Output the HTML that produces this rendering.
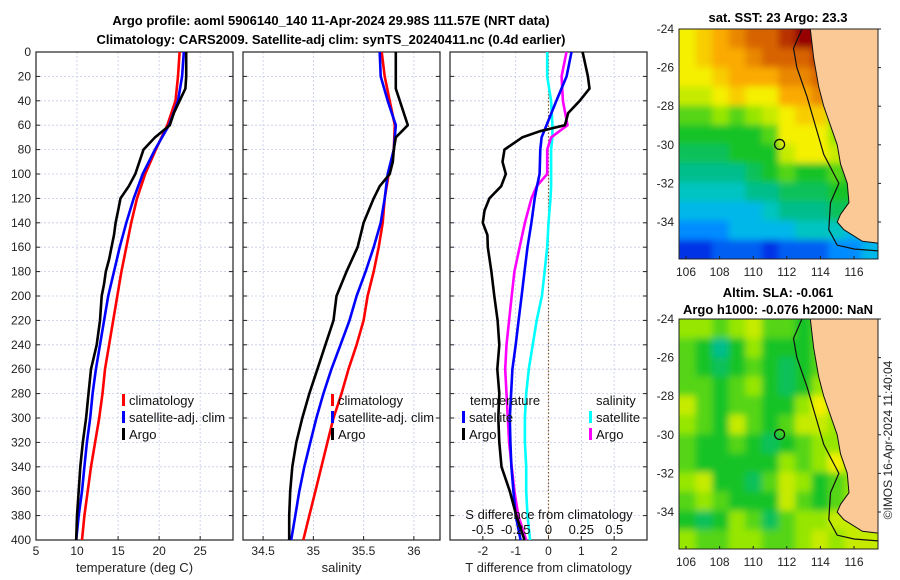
<!DOCTYPE html>
<html><head><meta charset="utf-8"><style>
html,body{margin:0;padding:0;background:#fff;}
svg{display:block;font-family:"Liberation Sans","DejaVu Sans",sans-serif;}
</style></head><body>
<svg id="fig" width="900" height="580" viewBox="0 0 900 580">
<defs>
<filter id="soft" x="-5%" y="-5%" width="110%" height="110%"><feGaussianBlur stdDeviation="3.5"/></filter>
<clipPath id="clipTop"><rect x="679" y="29" width="199" height="230"/></clipPath>
<clipPath id="clipBot"><rect x="679" y="319" width="199" height="230"/></clipPath>
</defs>
<text x="331" y="25" font-size="13" font-weight="bold" text-anchor="middle">Argo profile: aoml 5906140_140 11-Apr-2024 29.98S 111.57E (NRT data)</text>
<text x="331" y="44" font-size="13" font-weight="bold" text-anchor="middle">Climatology: CARS2009. Satellite-adj clim: synTS_20240411.nc (0.4d earlier)</text>
<text x="778" y="22" font-size="13" font-weight="bold" text-anchor="middle">sat. SST: 23 Argo: 23.3</text>
<text x="778" y="297" font-size="13" font-weight="bold" text-anchor="middle">Altim. SLA: -0.061</text>
<text x="778" y="314" font-size="13" font-weight="bold" text-anchor="middle">Argo h1000: -0.076 h2000: NaN</text>
<text transform="translate(892,440) rotate(-90)" font-size="12" fill="#222" text-anchor="middle">©IMOS 16-Apr-2024 11:40:04</text>
<g id="plots"></g>
</svg>
<script>
// ---- data ----
const depthsClim = [0,20,40,60,80,100,120,140,160,180,200,220,240,260,280,300,320,340,360,380,400];
const tempClim = [22.5,22.3,22.0,21.0,19.6,18.3,17.3,16.6,16.0,15.4,14.9,14.4,13.9,13.4,13.1,12.7,12.2,11.7,11.3,10.9,10.6];
const tempSat  = [23.0,22.8,22.3,21.2,19.5,18.0,16.9,16.0,15.2,14.5,13.8,13.3,12.8,12.3,11.9,11.6,11.2,10.9,10.6,10.2,9.9];
const depthsArgoT = [0,10,20,30,40,50,60,70,80,90,100,110,120,130,140,150,160,170,180,190,200,220,240,260,280,300,320,340,360,380,400];
const tempArgo = [23.3,23.3,23.3,23.2,22.5,21.8,21.3,19.5,18.1,17.6,17.1,16.3,15.3,15.0,14.7,14.5,14.2,13.9,13.5,13.3,13.0,12.8,12.4,11.7,11.4,11.1,10.7,10.4,10.2,10.0,9.9];
const salClim = [35.68,35.71,35.76,35.81,35.80,35.75,35.71,35.69,35.65,35.60,35.54,35.50,35.43,35.35,35.28,35.20,35.14,35.08,35.02,34.96,34.90];
const salSat  = [35.66,35.67,35.74,35.82,35.80,35.74,35.71,35.67,35.60,35.52,35.43,35.36,35.27,35.18,35.10,35.03,34.97,34.91,34.86,34.82,34.78];
const depthsArgoS = [0,10,20,30,40,50,60,65,70,80,90,100,110,120,130,140,160,180,200,220,240,260,280,300,320,340,360,380,400];
const salArgo = [35.82,35.82,35.82,35.82,35.86,35.90,35.94,35.88,35.82,35.80,35.79,35.76,35.66,35.60,35.55,35.50,35.44,35.33,35.23,35.20,35.12,35.04,34.96,34.89,34.83,34.79,34.77,34.76,34.76];
const depthsDiff = [0,20,30,40,50,60,65,70,80,90,100,110,120,130,140,150,160,180,200,220,240,260,280,300,320,340,360,380,400];
const tDiffArgo = [1.04,1.2,1.25,0.95,0.6,0.5,-0.27,-0.8,-1.34,-1.4,-1.3,-1.44,-1.8,-1.95,-2.0,-1.86,-1.85,-1.74,-1.65,-1.55,-1.5,-1.56,-1.5,-1.53,-1.5,-1.43,-1.18,-0.98,-0.73];
const depthsDiff2 = [0,20,40,60,70,80,100,110,120,140,160,180,200,220,240,260,280,300,320,340,360,380,400];
const tDiffSat = [0.7,0.55,0.24,-0.06,-0.21,-0.25,-0.27,-0.35,-0.42,-0.52,-0.64,-0.73,-0.82,-0.91,-1.0,-1.1,-1.14,-1.18,-1.16,-1.13,-1.07,-1.0,-0.85];
const sDiffArgo = [0.137,0.1,0.11,0.145,0.02,-0.01,-0.01,-0.09,-0.13,-0.18,-0.22,-0.26,-0.28,-0.3,-0.32,-0.33,-0.32,-0.31,-0.3,-0.28,-0.26,-0.23,-0.17];
const sDiffSat = [-0.01,-0.01,0.02,0.03,0.03,0.02,0.02,0.02,0.015,0.0,-0.01,-0.03,-0.05,-0.09,-0.12,-0.15,-0.17,-0.18,-0.18,-0.17,-0.17,-0.16,-0.14];
const depthTicks = [0,20,40,60,80,100,120,140,160,180,200,220,240,260,280,300,320,340,360,380,400];
const tempTicks = [5,10,15,20,25];
const salTicks = [34.5,35,35.5,36];
const tDiffTicks = [-2,-1,0,1,2];
const sDiffTickLabels = ["-0.5","-0.25","0","0.25","0.5"];
const sDiffTicks = [-0.5,-0.25,0,0.25,0.5];
const lonTicks = [106,108,110,112,114,116];
const latTicks = [-24,-26,-28,-30,-32,-34];
// SST grid (colour index 0-10), rows lat -24..-36, cols lon 105.6..117.4
const sstGrid = [
[7,7.5,8,8.5,9,9,9.5,10,10,10,10,10],
[7,7.5,8,8,8.5,9,9,9,9.5,9.5,9,9],
[7,7,7.5,8,8,8,8.5,8.5,9,8.5,8,8],
[6.5,6.5,7,7.5,7,7,8,8,8.5,6.5,6,6],
[5.5,5.5,6,5.5,6,6.5,7,7.5,7.5,6,6,6],
[5,5,5,5,5,5.5,7,7,7,6,5.5,5],
[4.5,4.5,4.5,5,5,5,6.5,7,7,6.5,6,5],
[4,4,4,4,4.5,5,5.5,5,5,5.5,5,4.5],
[3.5,3.5,3.5,3.5,4,4,4.5,4.5,4.5,5,5,4],
[3,3,3,3,3,3.5,4,4,4,4.5,4.5,3.5],
[2.5,2.5,2.5,3,3,3,3,3.5,3.5,3.5,3,2.5],
[1.5,1.5,2,2,2,1.5,2,2,2,2.5,2.5,3]];
const slaGrid = [
[6,6,5.5,6,6.5,5.5,5.5,5,5.5,5.5,5.5,5.5],
[5.5,5,4,5,6,5,5,5,5.5,5.5,5,5],
[5.5,5,4.5,5,5.5,5,4.5,5,5.5,5.5,5,5],
[5.5,5.5,5,5.5,6,5,4.5,5,6,6,5.5,5.5],
[6.5,5.5,5,5.5,5.5,5,5,6,7,6,6,6],
[6,5.5,5,6.5,5.5,5,5.5,6.5,6.5,6,6,6],
[5.5,5,5,5.5,5,4.5,5,5.5,6,6,6,5],
[5.5,5,5,5,5,5,6,5.5,6,7,6,5],
[6,6.5,5,5,4.5,5.5,6.5,6,5,5.5,6,5],
[5.5,6,5.5,5,5,5,6.5,5.5,5,5.5,6,5],
[5,4.5,5,6,5.5,4.5,5.5,6,6,6.5,6.5,6],
[6,5.5,5.5,6,6,5.5,5.5,6,6.5,6,6.5,6.5]];
const landLon = [113.4,113.6,113.9,114.2,114.6,115.0,115.2,115.6,115.7,115.2,115.0,115.4,116.5,117.5,117.5];
const landLat = [-24,-25.5,-27,-28,-29,-30,-31,-32,-33,-33.6,-34,-34.4,-35,-35.1,-24];
const contourLon = [112.9,112.4,112.6,113.2,113.7,114.2,114.8,115.1,114.6,114.5,115.0,116.0,117.5];
const contourLat = [-24,-25,-26,-27.5,-29,-30.5,-31.5,-32,-33,-34.4,-35.2,-35.4,-35.5];
const floatLon = 111.57, floatLat = -29.98;

// ---- helpers ----
const NS="http://www.w3.org/2000/svg";
const root=document.getElementById('plots');
function mk(tag,attrs,parent){const e=document.createElementNS(NS,tag);for(const k in attrs)e.setAttribute(k,attrs[k]);(parent||root).appendChild(e);return e;}
const Y0=52,Y1=540;
const yD=d=>Y0+(d/400)*(Y1-Y0);

function panel(name,x0,x1,xmin,xmax,ticks,tickLabels,xlabel,showY){
  const g=mk('g',{});
  
  
  const xs=v=>x0+(v-xmin)/(xmax-xmin)*(x1-x0);
  depthTicks.forEach(d=>{
    const l=mk('line',{x1:x0,x2:x1,y1:yD(d),y2:yD(d),stroke:'#c4cbe6','stroke-width':0.8,'stroke-dasharray':'2,2'},g);
    
    
    mk('line',{x1:x0,x2:x0+4,y1:yD(d),y2:yD(d),stroke:'#222'},g);
    mk('line',{x1:x1-4,x2:x1,y1:yD(d),y2:yD(d),stroke:'#222'},g);
    if(showY){const t=mk('text',{x:x0-5,y:yD(d)+4,'font-size':12,'text-anchor':'end',fill:'#222'},g);t.textContent=d;
      
      }
  });
  ticks.forEach((v,i)=>{
    const l=mk('line',{x1:xs(v),x2:xs(v),y1:Y0,y2:Y1,stroke:'#c4cbe6','stroke-width':0.8,'stroke-dasharray':'2,2'},g);
    
    
    mk('line',{x1:xs(v),x2:xs(v),y1:Y1-4,y2:Y1,stroke:'#222'},g);
    const t=mk('text',{x:xs(v),y:Y1+15,'font-size':12,'text-anchor':'middle',fill:'#222'},g);t.textContent=tickLabels[i];
    
    
  });
  const b=mk('rect',{x:x0,y:Y0,width:x1-x0,height:Y1-Y0,fill:'none',stroke:'#222','stroke-width':1.2},g);
  
  
  const xl=mk('text',{x:(x0+x1)/2,y:Y1+32,'font-size':13,'text-anchor':'middle',fill:'#222'},g);xl.textContent=xlabel;
  
  
  return {g,xs};
}
function line(p,depths,vals,color,name,xsf){
  const xs=xsf||p.xs;
  const pts=vals.map((v,i)=>xs(v).toFixed(1)+','+yD(depths[i]).toFixed(1)).join(' ');
  const l=mk('polyline',{points:pts,fill:'none',stroke:color,'stroke-width':2.6,'stroke-linejoin':'round'},p.g);
  
  
}
function legend(g,x,y,color,label,name){
  const gg=mk('g',{},g);
  
  
  mk('rect',{x:x,y:y-10,width:3,height:12,fill:color},gg);
  const t=mk('text',{x:x+7,y:y+1,'font-size':13,fill:'#111'},gg);t.textContent=label;
}

// Panel 1 temperature
const p1=panel('temperature-panel',36,233,5,29,tempTicks,tempTicks,'temperature (deg C)',true);
line(p1,depthsClim,tempClim,'#ff0000','temp-climatology-line');
line(p1,depthsClim,tempSat,'#0000ff','temp-satellite-line');
line(p1,depthsArgoT,tempArgo,'#000000','temp-argo-line');
legend(p1.g,122,404,'#ff0000','climatology','legend-climatology');
legend(p1.g,122,421,'#0000ff','satellite-adj. clim','legend-satellite');
legend(p1.g,122,438,'#000000','Argo','legend-argo');

// Panel 2 salinity
const p2=panel('salinity-panel',243,440,34.3,36.26,salTicks,salTicks,'salinity',false);
line(p2,depthsClim,salClim,'#ff0000','sal-climatology-line');
line(p2,depthsClim,salSat,'#0000ff','sal-satellite-line');
line(p2,depthsArgoS,salArgo,'#000000','sal-argo-line');
legend(p2.g,331,404,'#ff0000','climatology','legend-climatology');
legend(p2.g,331,421,'#0000ff','satellite-adj. clim','legend-satellite');
legend(p2.g,331,438,'#000000','Argo','legend-argo');

// Panel 3 differences
const p3=panel('difference-panel',450,647,-3,3,tDiffTicks,tDiffTicks,'T difference from climatology',false);
const xsS=v=>450+(v+0.75)/1.5*197;
const z=mk('line',{x1:p3.xs(0),x2:p3.xs(0),y1:Y0,y2:Y1,stroke:'#8b5a2b','stroke-width':1.2,'stroke-dasharray':'1.5,2'},p3.g);


line(p3,depthsDiff2,sDiffSat,'#00ffff','sdiff-satellite-line',xsS);
line(p3,depthsDiff2,sDiffArgo,'#ff00ff','sdiff-argo-line',xsS);
line(p3,depthsDiff2,tDiffSat,'#0000ff','tdiff-satellite-line');
line(p3,depthsDiff,tDiffArgo,'#000000','tdiff-argo-line');
const th=mk('text',{x:470,y:405,'font-size':13,fill:'#111'},p3.g);th.textContent='temperature';


const sh=mk('text',{x:596,y:405,'font-size':13,fill:'#111'},p3.g);sh.textContent='salinity';


legend(p3.g,462,421,'#0000ff','satellite','legend-t-satellite');
legend(p3.g,462,438,'#000000','Argo','legend-t-argo');
legend(p3.g,589,421,'#00ffff','satellite','legend-s-satellite');
legend(p3.g,589,438,'#ff00ff','Argo','legend-s-argo');
const st=mk('text',{x:549,y:519,'font-size':13,'text-anchor':'middle',fill:'#111'},p3.g);st.textContent='S difference from climatology';


sDiffTicks.forEach((v,i)=>{const t=mk('text',{x:xsS(v),y:534,'font-size':13,'text-anchor':'middle',fill:'#111'},p3.g);t.textContent=sDiffTickLabels[i];
  
  });

// ---- maps ----
function jet(v){
  const stops=[[0,[0,0,140]],[1.5,[0,50,230]],[2.5,[0,140,255]],[3.2,[0,200,225]],[4,[0,190,140]],[5,[20,195,40]],[6,[150,230,0]],[7,[245,240,0]],[8,[250,170,0]],[9,[215,100,0]],[10,[150,0,0]]];
  for(let i=1;i<stops.length;i++){if(v<=stops[i][0]){const a=stops[i-1],b=stops[i],f=(v-a[0])/(b[0]-a[0]);
    return 'rgb('+a[1].map((c,k)=>Math.round(c+(b[1][k]-c)*f)).join(',')+')';}}
  return 'rgb(150,0,0)';
}
function map(name,top,grid,clip){
  const X0=679,X1=878,Y2=top+230;
  const lx=lon=>686+(lon-106)*16.8, ly=lat=>top+(-24-lat)*19.3;
  const g=mk('g',{});
  
  
  const cg=mk('g',{'clip-path':'url(#'+clip+')'},g);
  const hg=mk('g',{filter:'url(#soft)'},cg);
  
  
  const cw=(X1-X0)/grid[0].length, ch=(Y2-top)/grid.length;
  grid.forEach((row,r)=>row.forEach((v,c)=>{
    const ex=(c===0?-6:0), ey=(r===0?-6:0);
    const cell=mk('rect',{x:X0+c*cw+ex,y:top+r*ch+ey,width:cw+0.5-ex+(c===row.length-1?6:0),height:ch+0.5-ey+(r===grid.length-1?6:0),fill:jet(v)},hg);
    
    
  }));
  const land=mk('polygon',{points:landLon.map((v,i)=>lx(v)+','+ly(landLat[i])).join(' '),fill:'#fbc996',stroke:'#111','stroke-width':1},cg);
  
  
  const cont=mk('polyline',{points:contourLon.map((v,i)=>lx(v)+','+ly(contourLat[i])).join(' '),fill:'none',stroke:'#111','stroke-width':1.2},cg);
  
  
  const fm=mk('circle',{cx:lx(floatLon),cy:ly(floatLat),r:5,fill:'none',stroke:'#111','stroke-width':1.3},g);
  
  
  const fr=mk('rect',{x:X0,y:top,width:X1-X0,height:Y2-top,fill:'none',stroke:'#222','stroke-width':1},g);
  
  
  lonTicks.forEach(v=>{const t=mk('text',{x:lx(v),y:Y2+17,'font-size':12,'text-anchor':'middle',fill:'#222'},g);t.textContent=v;
    
    
    mk('line',{x1:lx(v),x2:lx(v),y1:Y2-3,y2:Y2,stroke:'#222'},g);});
  latTicks.forEach(v=>{const t=mk('text',{x:X0-5,y:ly(v)+4,'font-size':12,'text-anchor':'end',fill:'#222'},g);t.textContent=v;
    
    
    mk('line',{x1:X1,x2:X1+3,y1:ly(v),y2:ly(v),stroke:'#222'},g);});
}
map('sst-map',29,sstGrid,'clipTop');
map('sla-map',319,slaGrid,'clipBot');
</script>
</body></html>
